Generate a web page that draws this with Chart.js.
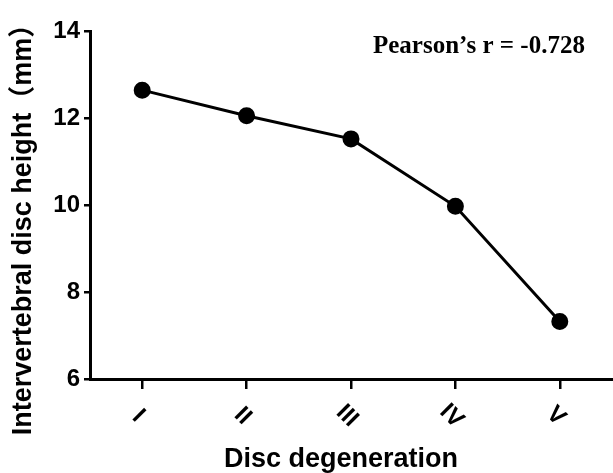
<!DOCTYPE html>
<html>
<head>
<meta charset="utf-8">
<script src="https://cdn.jsdelivr.net/npm/chart.js@4/dist/chart.umd.min.js"></script>
<style>
  body { margin: 0; background: #fff; }
</style>
</head>
<body>
<canvas id="myChart" width="613" height="473"></canvas>
<script>
const categories = ["I", "II", "III", "IV", "V"];
const discHeight = [12.64, 12.05, 11.52, 9.97, 7.32];
const yMin = 6;
const yMax = 14;
const yStep = 2;
const xTitle = "Disc degeneration";
const yTitle = "Intervertebral disc height（mm）";
const note = "Pearson’s r = -0.728";

const sans = '"Liberation Sans", Arial, "Noto Sans CJK SC", sans-serif';

// rotated x labels, axis titles and the r value
const textPlugin = {
  id: "texts",
  afterDraw(chart) {
    const { ctx, chartArea, scales } = chart;
    ctx.save();
    ctx.fillStyle = "#000";

    ctx.font = "bold 24px " + sans;
    ctx.textAlign = "center";
    ctx.textBaseline = "middle";
    categories.forEach((c, i) => {
      const px = scales.x.getPixelForValue(i);
      ctx.save();
      ctx.translate(px - 4, chartArea.bottom + 37);
      ctx.rotate(Math.PI / 4);
      ctx.fillText(c, 0, 0);
      ctx.restore();
    });

    ctx.font = "bold 27px " + sans;
    ctx.textBaseline = "alphabetic";
    ctx.fillText(xTitle, 341, 467);

    ctx.save();
    ctx.translate(24, 223);
    ctx.rotate(-Math.PI / 2);
    ctx.textBaseline = "middle";
    ctx.fillText(yTitle, 0, 0);
    ctx.restore();

    ctx.font = 'bold 25px "Liberation Serif", "Times New Roman", serif';
    ctx.textAlign = "left";
    ctx.textBaseline = "alphabetic";
    ctx.fillText(note, 373, 53);
    ctx.restore();
  },
};

const config = {
  type: "line",
  data: {
    labels: categories,
    datasets: [
      {
        data: discHeight,
        borderColor: "#000",
        borderWidth: 3,
        backgroundColor: "#000",
        pointBackgroundColor: "#000",
        pointBorderColor: "#000",
        pointRadius: 7,
        tension: 0,
      },
    ],
  },
  options: {
    responsive: false,
    animation: false,
    devicePixelRatio: 1,
    layout: { autoPadding: false, padding: { top: 31, right: 1, left: 0, bottom: 0 } },
    plugins: { legend: { display: false }, tooltip: { enabled: false } },
    scales: {
      x: {
        offset: true,
        grid: { drawOnChartArea: false, offset: false, tickLength: 10, lineWidth: 2.5, color: "#000" },
        border: { color: "#000", width: 3 },
        ticks: { display: false },
        afterFit(scale) { scale.height = 94; },
      },
      y: {
        min: yMin,
        max: yMax,
        ticks: {
          stepSize: yStep,
          color: "#000",
          padding: 4,
          font: { family: sans, size: 24, weight: "bold" },
        },
        grid: { drawOnChartArea: false, tickLength: 6, lineWidth: 2.5, color: "#000" },
        border: { color: "#000", width: 3 },
        afterFit(scale) { scale.width = 90; },
      },
    },
  },
  plugins: [textPlugin],
};

const myChart = new Chart(document.getElementById("myChart"), config);
</script>
</body>
</html>
